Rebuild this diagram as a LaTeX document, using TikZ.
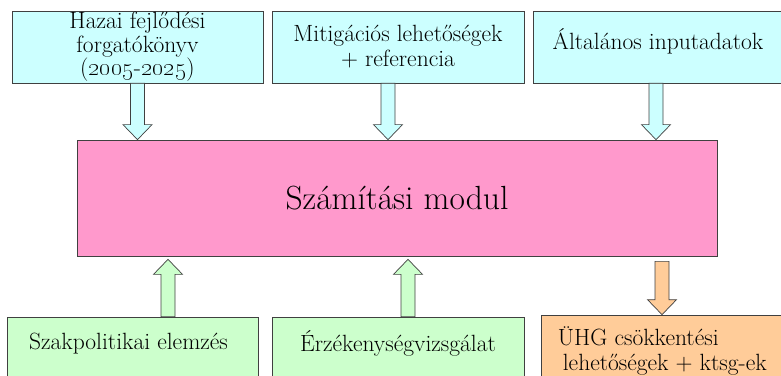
\documentclass[tikz,border=0pt]{standalone}
\usetikzlibrary{positioning,calc}
\definecolor{cyanfill}{HTML}{CCFFFF}
\definecolor{pinkfill}{HTML}{FF99CC}
\definecolor{greenfill}{HTML}{CCFFCC}
\definecolor{orangefill}{HTML}{FFCC99}
\definecolor{edge}{HTML}{404040}

\begin{document}
\begin{tikzpicture}[x=1pt,y=1pt,
  box/.style={draw=edge, line width=0.7pt, minimum width=251pt, minimum height=72pt,
    inner sep=0pt, align=center, font=\fontsize{23.5}{23.5}\selectfont},
  txt/.style={inner sep=0pt, align=left, font=\fontsize{23.5}{25}\selectfont},
  blockarrow/.style={draw=edge, line width=0.7pt, line join=miter}]
\useasboundingbox (0,0) rectangle (781,375);
% input boxes
\node[box, fill=cyanfill] (hazai) at (137.5,328) {Hazai fejlődési\\forgatókönyv\\(\oldstylenums{2005}-\oldstylenums{2025})};
\node[box, fill=cyanfill, minimum width=252pt, font=\fontsize{23.5}{25}\selectfont] (mitig) at (398,328) {Mitigációs lehetőségek\\+ referencia};
\node[box, fill=cyanfill, minimum width=250pt] (altal) at (658,328) {};
\node[txt] (altaltxt) at ([yshift=6pt]altal.center) {Általános inputadatok};
% main box
\node[box, fill=pinkfill, minimum width=640pt, minimum height=116pt,
  font=\fontsize{33.5}{38}\selectfont] (modul) at (397,177) {Számítási modul};
% output boxes
\node[box, fill=greenfill, minimum height=73pt] (szak) at (132.5,21.5) {};
\node[box, fill=greenfill, minimum width=252pt, minimum height=73pt] (erz) at (398,21.5) {};
\node[box, fill=orangefill, minimum width=242pt, minimum height=75pt] (uhg) at (662,22.5) {};
\node[txt] (szaktxt) at ([xshift=-4pt,yshift=-27pt]szak.north) {Szakpolitikai elemzés};
\node[txt] (erztxt) at ([yshift=-27pt]erz.north) {Érzékenységvizsgálat};
\node[txt, anchor=west] (uhgtxt) at ([xshift=17pt,yshift=-36pt]uhg.north west)
  {ÜHG csökkentési\\\hspace{5pt}lehetőségek + ktsg-ek};
% arrow ends
\coordinate (a1) at (hazai.south);
\coordinate (b1) at (a1 |- modul.north);
\coordinate (a2) at ([xshift=-10pt]mitig.south);
\coordinate (b2) at (a2 |- modul.north);
\coordinate (a3) at ([xshift=-2pt]altal.south);
\coordinate (b3) at (a3 |- modul.north);
\coordinate (a4) at ([xshift=35.5pt]szak.north);
\coordinate (b4) at ([yshift=-3pt]a4 |- modul.south);
\coordinate (a5) at ([xshift=10pt]erz.north);
\coordinate (b5) at ([yshift=-3pt]a5 |- modul.south);
\coordinate (b6) at (uhg.north);
\coordinate (a6) at ([yshift=-5pt]b6 |- modul.south);
\foreach \s/\e/\f in {a1/b1/cyanfill, a2/b2/cyanfill, a3/b3/cyanfill,
                     a4/b4/greenfill, a5/b5/greenfill, a6/b6/orangefill} {
  \coordinate (h) at ($(\e)!15pt!(\s)$);
  \draw[blockarrow, fill=\f] ($(\s)!7pt!90:(\e)$) -- ($(h)!7pt!90:(\e)$)
    -- ($(h)!14.5pt!90:(\e)$) -- (\e) -- ($(h)!14.5pt!-90:(\e)$)
    -- ($(h)!7pt!-90:(\e)$) -- ($(\s)!7pt!-90:(\e)$) -- cycle;
}
\end{tikzpicture}
\end{document}
